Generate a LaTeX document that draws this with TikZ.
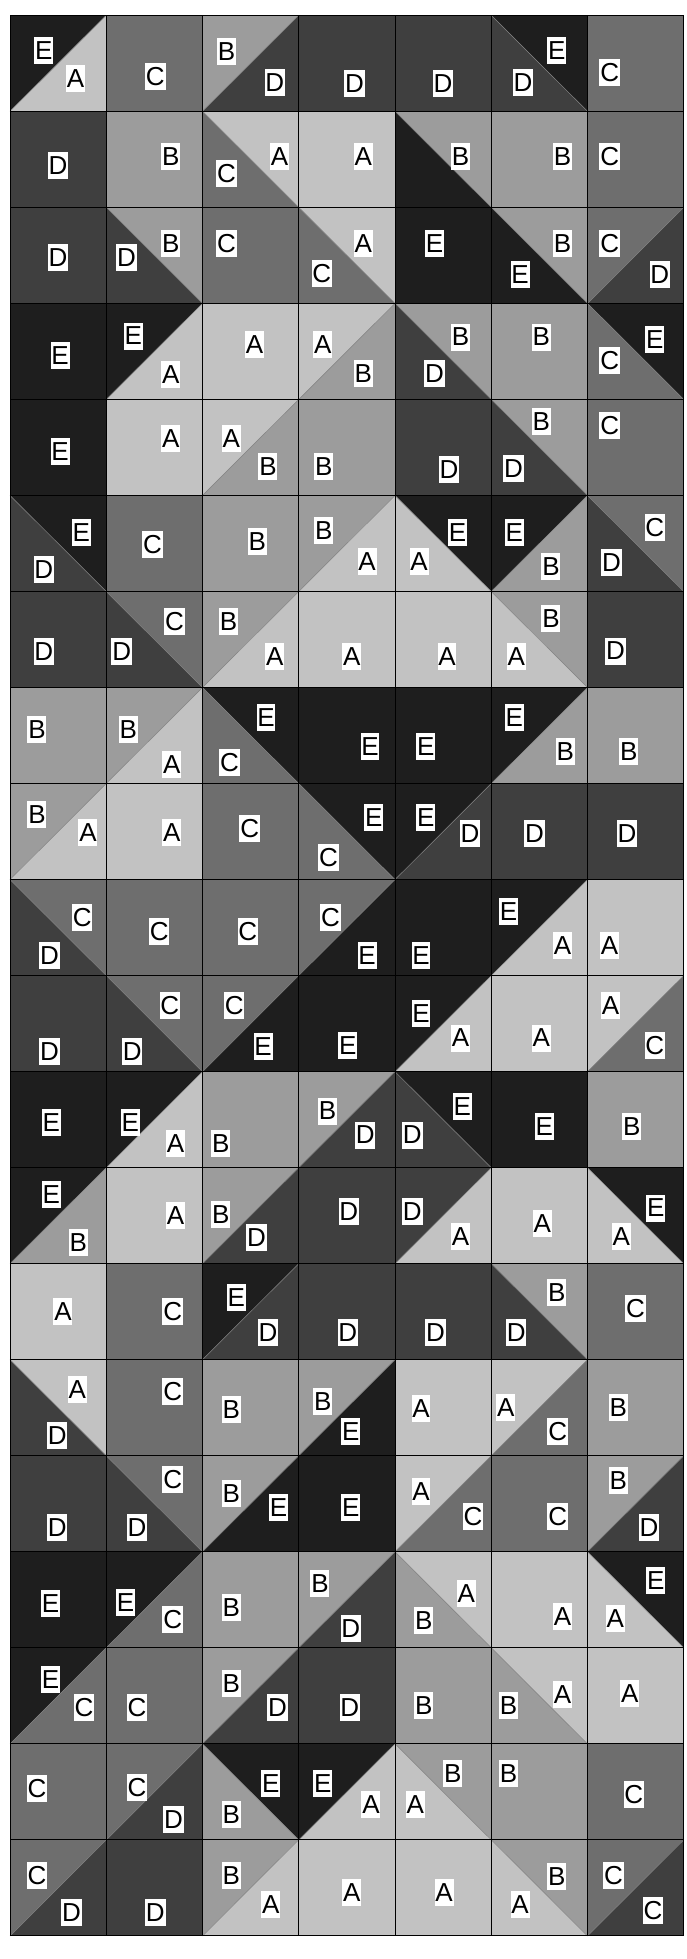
\documentclass[tikz,border=0pt]{standalone}
\usepackage{fontspec}
\setmainfont{Liberation Sans}
\definecolor{cA}{HTML}{C2C2C2}
\definecolor{cB}{HTML}{9C9C9C}
\definecolor{cC}{HTML}{6E6E6E}
\definecolor{cD}{HTML}{3F3F3F}
\definecolor{cE}{HTML}{1E1E1E}
\definecolor{diagcol}{HTML}{808080}
\def\GX{10}\def\GY{15.3}\def\GS{96.25}\def\GT{96.03}
\newcommand\cellS[3]{\fill[c#3] ({\GX+\GS*#2},{\GY+\GT*#1}) rectangle ++(\GS,\GT);}
\newcommand\cellF[4]{%
 \fill[c#3] ({\GX+\GS*#2},{\GY+\GT*#1}) -- ++(\GS,0) -- ++(-\GS,\GT) -- cycle;
 \fill[c#4] ({\GX+\GS*(#2+1)},{\GY+\GT*#1}) -- ++(0,\GT) -- ++(-\GS,0) -- cycle;
 \draw[diagline] ({\GX+\GS*(#2+1)},{\GY+\GT*#1}) -- ++(-\GS,\GT);}
\newcommand\cellB[4]{%
 \fill[c#3] ({\GX+\GS*#2},{\GY+\GT*#1}) -- ++(\GS,0) -- ++(0,\GT) -- cycle;
 \fill[c#4] ({\GX+\GS*#2},{\GY+\GT*#1}) -- ++(\GS,\GT) -- ++(-\GS,0) -- cycle;
 \draw[diagline] ({\GX+\GS*#2},{\GY+\GT*#1}) -- ++(\GS,\GT);}
\newcommand\putlab[6]{\node[lbl] (L#1-#2-#3) at ({\GX+\GS*(#2+#5)},{\GY+\GT*(#1+#6)}) {#4};}
\begin{document}
\begin{tikzpicture}[x=1pt,y=-1pt,
  gridline/.style={draw=black,line width=1pt},
  diagline/.style={draw=diagcol,line width=0.5pt},
  lbl/.style={fill=white,text=black,inner xsep=0.8pt,inner ysep=0pt,minimum width=17.5pt,minimum height=27pt,font=\fontsize{26}{26}\selectfont}]
\useasboundingbox (0,0) rectangle (686,1959);
\fill[white] (0,0) rectangle (686,1959);
% row 0
\cellF{0}{0}{E}{A}\putlab{0}{0}{1}{E}{.35}{.37}\putlab{0}{0}{2}{A}{.68}{.66}
\cellS{0}{1}{C}\putlab{0}{1}{1}{C}{.51}{.64}
\cellF{0}{2}{B}{D}\putlab{0}{2}{1}{B}{.25}{.38}\putlab{0}{2}{2}{D}{.75}{.70}
\cellS{0}{3}{D}\putlab{0}{3}{1}{D}{.58}{.71}
\cellS{0}{4}{D}\putlab{0}{4}{1}{D}{.50}{.71}
\cellB{0}{5}{E}{D}\putlab{0}{5}{1}{E}{.68}{.37}\putlab{0}{5}{2}{D}{.33}{.70}
\cellS{0}{6}{C}\putlab{0}{6}{1}{C}{.23}{.60}
% row 1
\cellS{1}{0}{D}\putlab{1}{0}{1}{D}{.50}{.56}
\cellS{1}{1}{B}\putlab{1}{1}{1}{B}{.67}{.47}
\cellB{1}{2}{A}{C}\putlab{1}{2}{1}{A}{.80}{.47}\putlab{1}{2}{2}{C}{.25}{.65}
\cellS{1}{3}{A}\putlab{1}{3}{1}{A}{.67}{.47}
\cellB{1}{4}{B}{E}\putlab{1}{4}{1}{B}{.68}{.47}
\cellS{1}{5}{B}\putlab{1}{5}{1}{B}{.74}{.47}
\cellS{1}{6}{C}\putlab{1}{6}{1}{C}{.23}{.47}
% row 2
\cellS{2}{0}{D}\putlab{2}{0}{1}{D}{.50}{.52}
\cellB{2}{1}{B}{D}\putlab{2}{1}{1}{B}{.67}{.38}\putlab{2}{1}{2}{D}{.21}{.52}
\cellS{2}{2}{C}\putlab{2}{2}{1}{C}{.25}{.38}
\cellB{2}{3}{A}{C}\putlab{2}{3}{1}{A}{.67}{.38}\putlab{2}{3}{2}{C}{.24}{.69}
\cellS{2}{4}{E}\putlab{2}{4}{1}{E}{.41}{.38}
\cellB{2}{5}{B}{E}\putlab{2}{5}{1}{B}{.74}{.38}\putlab{2}{5}{2}{E}{.30}{.70}
\cellF{2}{6}{C}{D}\putlab{2}{6}{1}{C}{.23}{.38}\putlab{2}{6}{2}{D}{.75}{.70}
% row 3
\cellS{3}{0}{E}\putlab{3}{0}{1}{E}{.52}{.54}
\cellF{3}{1}{E}{A}\putlab{3}{1}{1}{E}{.28}{.34}\putlab{3}{1}{2}{A}{.67}{.74}
\cellS{3}{2}{A}\putlab{3}{2}{1}{A}{.54}{.43}
\cellF{3}{3}{A}{B}\putlab{3}{3}{1}{A}{.25}{.43}\putlab{3}{3}{2}{B}{.67}{.73}
\cellB{3}{4}{B}{D}\putlab{3}{4}{1}{B}{.68}{.35}\putlab{3}{4}{2}{D}{.41}{.73}
\cellS{3}{5}{B}\putlab{3}{5}{1}{B}{.52}{.35}
\cellB{3}{6}{E}{C}\putlab{3}{6}{1}{E}{.70}{.38}\putlab{3}{6}{2}{C}{.23}{.59}
% row 4
\cellS{4}{0}{E}\putlab{4}{0}{1}{E}{.52}{.54}
\cellS{4}{1}{A}\putlab{4}{1}{1}{A}{.67}{.41}
\cellF{4}{2}{A}{B}\putlab{4}{2}{1}{A}{.30}{.41}\putlab{4}{2}{2}{B}{.68}{.70}
\cellS{4}{3}{B}\putlab{4}{3}{1}{B}{.26}{.70}
\cellS{4}{4}{D}\putlab{4}{4}{1}{D}{.56}{.73}
\cellB{4}{5}{B}{D}\putlab{4}{5}{1}{B}{.52}{.23}\putlab{4}{5}{2}{D}{.23}{.72}
\cellS{4}{6}{C}\putlab{4}{6}{1}{C}{.23}{.27}
% row 5
\cellB{5}{0}{E}{D}\putlab{5}{0}{1}{E}{.74}{.39}\putlab{5}{0}{2}{D}{.35}{.77}
\cellS{5}{1}{C}\putlab{5}{1}{1}{C}{.48}{.51}
\cellS{5}{2}{B}\putlab{5}{2}{1}{B}{.57}{.48}
\cellF{5}{3}{B}{A}\putlab{5}{3}{1}{B}{.26}{.37}\putlab{5}{3}{2}{A}{.71}{.69}
\cellB{5}{4}{E}{A}\putlab{5}{4}{1}{E}{.65}{.39}\putlab{5}{4}{2}{A}{.25}{.69}
\cellF{5}{5}{E}{B}\putlab{5}{5}{1}{E}{.24}{.39}\putlab{5}{5}{2}{B}{.62}{.74}
\cellB{5}{6}{C}{D}\putlab{5}{6}{1}{C}{.70}{.33}\putlab{5}{6}{2}{D}{.25}{.70}
% row 6
\cellS{6}{0}{D}\putlab{6}{0}{1}{D}{.35}{.63}
\cellB{6}{1}{C}{D}\putlab{6}{1}{1}{C}{.71}{.31}\putlab{6}{1}{2}{D}{.16}{.63}
\cellF{6}{2}{B}{A}\putlab{6}{2}{1}{B}{.27}{.31}\putlab{6}{2}{2}{A}{.75}{.68}
\cellS{6}{3}{A}\putlab{6}{3}{1}{A}{.55}{.68}
\cellS{6}{4}{A}\putlab{6}{4}{1}{A}{.54}{.68}
\cellB{6}{5}{B}{A}\putlab{6}{5}{1}{B}{.62}{.28}\putlab{6}{5}{2}{A}{.26}{.68}
\cellS{6}{6}{D}\putlab{6}{6}{1}{D}{.29}{.62}
% row 7
\cellS{7}{0}{B}\putlab{7}{0}{1}{B}{.28}{.44}
\cellF{7}{1}{B}{A}\putlab{7}{1}{1}{B}{.23}{.44}\putlab{7}{1}{2}{A}{.68}{.80}
\cellB{7}{2}{E}{C}\putlab{7}{2}{1}{E}{.66}{.31}\putlab{7}{2}{2}{C}{.28}{.78}
\cellS{7}{3}{E}\putlab{7}{3}{1}{E}{.74}{.61}
\cellS{7}{4}{E}\putlab{7}{4}{1}{E}{.32}{.61}
\cellF{7}{5}{E}{B}\putlab{7}{5}{1}{E}{.24}{.31}\putlab{7}{5}{2}{B}{.77}{.67}
\cellS{7}{6}{B}\putlab{7}{6}{1}{B}{.43}{.67}
% row 8
\cellF{8}{0}{B}{A}\putlab{8}{0}{1}{B}{.28}{.32}\putlab{8}{0}{2}{A}{.81}{.51}
\cellS{8}{1}{A}\putlab{8}{1}{1}{A}{.68}{.51}
\cellS{8}{2}{C}\putlab{8}{2}{1}{C}{.49}{.47}
\cellB{8}{3}{E}{C}\putlab{8}{3}{1}{E}{.78}{.35}\putlab{8}{3}{2}{C}{.31}{.77}
\cellF{8}{4}{E}{D}\putlab{8}{4}{1}{E}{.32}{.35}\putlab{8}{4}{2}{D}{.78}{.52}
\cellS{8}{5}{D}\putlab{8}{5}{1}{D}{.45}{.52}
\cellS{8}{6}{D}\putlab{8}{6}{1}{D}{.41}{.52}
% row 9
\cellB{9}{0}{C}{D}\putlab{9}{0}{1}{C}{.75}{.40}\putlab{9}{0}{2}{D}{.41}{.79}
\cellS{9}{1}{C}\putlab{9}{1}{1}{C}{.55}{.54}
\cellS{9}{2}{C}\putlab{9}{2}{1}{C}{.47}{.54}
\cellF{9}{3}{C}{E}\putlab{9}{3}{1}{C}{.33}{.40}\putlab{9}{3}{2}{E}{.71}{.79}
\cellS{9}{4}{E}\putlab{9}{4}{1}{E}{.27}{.79}
\cellF{9}{5}{E}{A}\putlab{9}{5}{1}{E}{.18}{.33}\putlab{9}{5}{2}{A}{.74}{.69}
\cellS{9}{6}{A}\putlab{9}{6}{1}{A}{.23}{.69}
% row 10
\cellS{10}{0}{D}\putlab{10}{0}{1}{D}{.41}{.79}
\cellB{10}{1}{C}{D}\putlab{10}{1}{1}{C}{.66}{.31}\putlab{10}{1}{2}{D}{.27}{.79}
\cellF{10}{2}{C}{E}\putlab{10}{2}{1}{C}{.33}{.31}\putlab{10}{2}{2}{E}{.63}{.74}
\cellS{10}{3}{E}\putlab{10}{3}{1}{E}{.51}{.73}
\cellF{10}{4}{E}{A}\putlab{10}{4}{1}{E}{.27}{.39}\putlab{10}{4}{2}{A}{.68}{.65}
\cellS{10}{5}{A}\putlab{10}{5}{1}{A}{.52}{.65}
\cellF{10}{6}{A}{C}\putlab{10}{6}{1}{A}{.24}{.31}\putlab{10}{6}{2}{C}{.70}{.73}
% row 11
\cellS{11}{0}{E}\putlab{11}{0}{1}{E}{.43}{.53}
\cellF{11}{1}{E}{A}\putlab{11}{1}{1}{E}{.25}{.53}\putlab{11}{1}{2}{A}{.72}{.75}
\cellS{11}{2}{B}\putlab{11}{2}{1}{B}{.19}{.75}
\cellF{11}{3}{B}{D}\putlab{11}{3}{1}{B}{.30}{.41}\putlab{11}{3}{2}{D}{.69}{.66}
\cellB{11}{4}{E}{D}\putlab{11}{4}{1}{E}{.70}{.36}\putlab{11}{4}{2}{D}{.18}{.66}
\cellS{11}{5}{E}\putlab{11}{5}{1}{E}{.55}{.57}
\cellS{11}{6}{B}\putlab{11}{6}{1}{B}{.46}{.57}
% row 12
\cellF{12}{0}{E}{B}\putlab{12}{0}{1}{E}{.43}{.28}\putlab{12}{0}{2}{B}{.71}{.78}
\cellS{12}{1}{A}\putlab{12}{1}{1}{A}{.72}{.50}
\cellF{12}{2}{B}{D}\putlab{12}{2}{1}{B}{.19}{.49}\putlab{12}{2}{2}{D}{.56}{.73}
\cellS{12}{3}{D}\putlab{12}{3}{1}{D}{.52}{.46}
\cellF{12}{4}{D}{A}\putlab{12}{4}{1}{D}{.18}{.46}\putlab{12}{4}{2}{A}{.68}{.72}
\cellS{12}{5}{A}\putlab{12}{5}{1}{A}{.53}{.58}
\cellB{12}{6}{E}{A}\putlab{12}{6}{1}{E}{.71}{.42}\putlab{12}{6}{2}{A}{.35}{.72}
% row 13
\cellS{13}{0}{A}\putlab{13}{0}{1}{A}{.55}{.50}
\cellS{13}{1}{C}\putlab{13}{1}{1}{C}{.69}{.50}
\cellF{13}{2}{E}{D}\putlab{13}{2}{1}{E}{.35}{.35}\putlab{13}{2}{2}{D}{.68}{.72}
\cellS{13}{3}{D}\putlab{13}{3}{1}{D}{.51}{.72}
\cellS{13}{4}{D}\putlab{13}{4}{1}{D}{.42}{.72}
\cellB{13}{5}{B}{D}\putlab{13}{5}{1}{B}{.68}{.30}\putlab{13}{5}{2}{D}{.26}{.72}
\cellS{13}{6}{C}\putlab{13}{6}{1}{C}{.50}{.47}
% row 14
\cellB{14}{0}{A}{D}\putlab{14}{0}{1}{A}{.70}{.31}\putlab{14}{0}{2}{D}{.49}{.79}
\cellS{14}{1}{C}\putlab{14}{1}{1}{C}{.69}{.33}
\cellS{14}{2}{B}\putlab{14}{2}{1}{B}{.30}{.52}
\cellF{14}{3}{B}{E}\putlab{14}{3}{1}{B}{.25}{.44}\putlab{14}{3}{2}{E}{.54}{.75}
\cellS{14}{4}{A}\putlab{14}{4}{1}{A}{.27}{.51}
\cellF{14}{5}{A}{C}\putlab{14}{5}{1}{A}{.15}{.50}\putlab{14}{5}{2}{C}{.69}{.75}
\cellS{14}{6}{B}\putlab{14}{6}{1}{B}{.32}{.50}
% row 15
\cellS{15}{0}{D}\putlab{15}{0}{1}{D}{.49}{.75}
\cellB{15}{1}{C}{D}\putlab{15}{1}{1}{C}{.69}{.25}\putlab{15}{1}{2}{D}{.32}{.75}
\cellF{15}{2}{B}{E}\putlab{15}{2}{1}{B}{.30}{.39}\putlab{15}{2}{2}{E}{.79}{.54}
\cellS{15}{3}{E}\putlab{15}{3}{1}{E}{.54}{.54}
\cellF{15}{4}{A}{C}\putlab{15}{4}{1}{A}{.27}{.37}\putlab{15}{4}{2}{C}{.81}{.63}
\cellS{15}{5}{C}\putlab{15}{5}{1}{C}{.69}{.63}
\cellF{15}{6}{B}{D}\putlab{15}{6}{1}{B}{.32}{.26}\putlab{15}{6}{2}{D}{.64}{.75}
% row 16
\cellS{16}{0}{E}\putlab{16}{0}{1}{E}{.42}{.54}
\cellF{16}{1}{E}{C}\putlab{16}{1}{1}{E}{.20}{.53}\putlab{16}{1}{2}{C}{.69}{.71}
\cellS{16}{2}{B}\putlab{16}{2}{1}{B}{.30}{.58}
\cellF{16}{3}{B}{D}\putlab{16}{3}{1}{B}{.22}{.33}\putlab{16}{3}{2}{D}{.54}{.80}
\cellB{16}{4}{A}{B}\putlab{16}{4}{1}{A}{.74}{.43}\putlab{16}{4}{2}{B}{.30}{.72}
\cellS{16}{5}{A}\putlab{16}{5}{1}{A}{.74}{.67}
\cellB{16}{6}{E}{A}\putlab{16}{6}{1}{E}{.71}{.30}\putlab{16}{6}{2}{A}{.29}{.69}
% row 17
\cellF{17}{0}{E}{C}\putlab{17}{0}{1}{E}{.42}{.33}\putlab{17}{0}{2}{C}{.77}{.62}
\cellS{17}{1}{C}\putlab{17}{1}{1}{C}{.32}{.62}
\cellF{17}{2}{B}{D}\putlab{17}{2}{1}{B}{.30}{.37}\putlab{17}{2}{2}{D}{.78}{.62}
\cellS{17}{3}{D}\putlab{17}{3}{1}{D}{.53}{.62}
\cellS{17}{4}{B}\putlab{17}{4}{1}{B}{.30}{.60}
\cellB{17}{5}{A}{B}\putlab{17}{5}{1}{A}{.74}{.49}\putlab{17}{5}{2}{B}{.18}{.60}
\cellS{17}{6}{A}\putlab{17}{6}{1}{A}{.44}{.48}
% row 18
\cellS{18}{0}{C}\putlab{18}{0}{1}{C}{.28}{.47}
\cellF{18}{1}{C}{D}\putlab{18}{1}{1}{C}{.32}{.45}\putlab{18}{1}{2}{D}{.70}{.79}
\cellB{18}{2}{E}{B}\putlab{18}{2}{1}{E}{.71}{.41}\putlab{18}{2}{2}{B}{.30}{.74}
\cellF{18}{3}{E}{A}\putlab{18}{3}{1}{E}{.25}{.41}\putlab{18}{3}{2}{A}{.75}{.63}
\cellB{18}{4}{B}{A}\putlab{18}{4}{1}{B}{.60}{.31}\putlab{18}{4}{2}{A}{.21}{.63}
\cellS{18}{5}{B}\putlab{18}{5}{1}{B}{.18}{.31}
\cellS{18}{6}{C}\putlab{18}{6}{1}{C}{.48}{.53}
% row 19
\cellF{19}{0}{C}{D}\putlab{19}{0}{1}{C}{.28}{.37}\putlab{19}{0}{2}{D}{.64}{.76}
\cellS{19}{1}{D}\putlab{19}{1}{1}{D}{.51}{.76}
\cellF{19}{2}{B}{A}\putlab{19}{2}{1}{B}{.30}{.37}\putlab{19}{2}{2}{A}{.71}{.67}
\cellS{19}{3}{A}\putlab{19}{3}{1}{A}{.55}{.55}
\cellS{19}{4}{A}\putlab{19}{4}{1}{A}{.51}{.55}
\cellB{19}{5}{B}{A}\putlab{19}{5}{1}{B}{.68}{.38}\putlab{19}{5}{2}{A}{.30}{.67}
\cellF{19}{6}{C}{D}\putlab{19}{6}{1}{C}{.27}{.37}\putlab{19}{6}{2}{C}{.68}{.74}
% grid lines
\foreach \i in {0,...,7} \draw[gridline] ({\GX+\GS*\i},\GY) -- ++(0,{20*\GT});
\foreach \j in {0,...,20} \draw[gridline] (\GX,{\GY+\GT*\j}) -- ++({7*\GS},0);
\end{tikzpicture}
\end{document}
